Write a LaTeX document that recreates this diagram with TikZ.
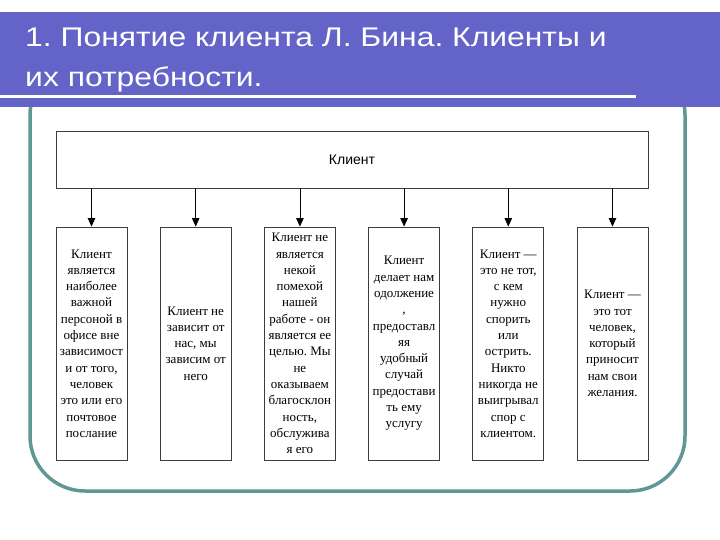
\documentclass[tikz,border=0pt]{standalone}
\usepackage{fontspec}
\setmainfont{Liberation Serif}
\newfontfamily\headfont{Liberation Sans}
\usetikzlibrary{arrows.meta,positioning}
\frenchspacing
\definecolor{SlideBlue}{RGB}{100,100,200}
\definecolor{FrameTeal}{RGB}{96,150,150}
\definecolor{BoxLine}{RGB}{60,60,60}
\tikzset{
    rootbox/.style={draw=BoxLine, line width=0.9pt, fill=white, minimum width=592pt, minimum height=57pt, font=\headfont\fontsize{14}{16}\selectfont},
    itembox/.style={draw=BoxLine, line width=0.9pt, fill=white, minimum width=71pt, minimum height=233pt, inner sep=1pt, align=center, font=\fontsize{13}{16.3}\selectfont},
    downarr/.style={-{Triangle[length=8.5pt,width=7.5pt]}, line width=0.8pt},
}
\begin{document}
\begin{tikzpicture}[x=1pt,y=-1pt]
\useasboundingbox (0,0) rectangle (720,540);
% slide frame and title band
\draw[FrameTeal, line width=3.5pt, rounded corners=55pt] (30,60) rectangle (685,491);
\fill[SlideBlue] (0,12) rectangle (720,107);
\draw[white, line width=3pt] (0,97) -- (636,97);
\node[anchor=north west, text=white, font=\headfont\fontsize{27}{40}\selectfont, align=left, inner sep=0pt, xscale=1.18] (title) at (25,28) {1. Понятие клиента Л. Бина. Клиенты и\\их потребности.};

\node[rootbox] (client) at (352,159.5) {Клиент};
\node[itembox] (b1) at (91.5,343.5) {Клиент\\является\\наиболее\\важной\\персоной в\\офисе вне\\зависимост\\и от того,\\человек\\это или его\\почтовое\\послание};
\node[itembox] (b2) at (195.7,343.5) {Клиент не\\зависит от\\нас, мы\\зависим от\\него};
\node[itembox] (b3) at (299.9,343.5) {Клиент не\\является\\некой\\помехой\\нашей\\работе - он\\является ее\\целью. Мы\\не\\оказываем\\благосклон\\ность,\\обслужива\\я его};
\node[itembox] (b4) at (404.1,343.5) {Клиент\\делает нам\\одолжение\\,\\предоставл\\яя\\удобный\\случай\\предостави\\ть ему\\услугу};
\node[itembox] (b5) at (508.3,343.5) {Клиент —\\это не тот,\\с кем\\нужно\\спорить\\или\\острить.\\Никто\\никогда не\\выигрывал\\спор с\\клиентом.};
\node[itembox] (b6) at (612.5,343.5) {Клиент —\\это тот\\человек,\\который\\приносит\\нам свои\\желания.};

\draw[downarr] (client.south -| b1) -- (b1);
\draw[downarr] (client.south -| b2) -- (b2);
\draw[downarr] (client.south -| b3) -- (b3);
\draw[downarr] (client.south -| b4) -- (b4);
\draw[downarr] (client.south -| b5) -- (b5);
\draw[downarr] (client.south -| b6) -- (b6);
\end{tikzpicture}
\end{document}
